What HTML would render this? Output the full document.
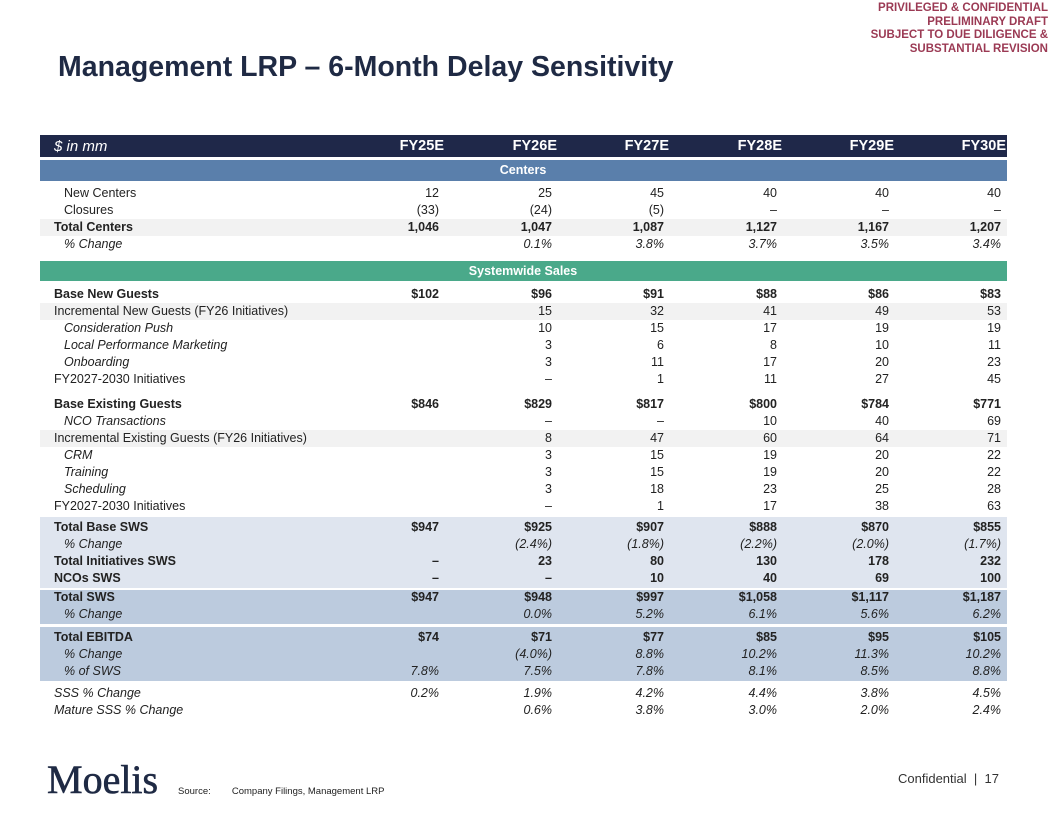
<!DOCTYPE html>
<html><head><meta charset="utf-8"><style>
body{margin:0;width:1056px;height:816px;background:#fff;position:relative;overflow:hidden;font-family:"Liberation Sans",Arial,sans-serif;color:#222}
.a{position:absolute}
.conf{right:8px;top:2px;text-align:right;color:#9b3a54;font-weight:bold;font-size:11.5px;line-height:13.5px}
.title{left:58px;top:51px;font-size:28.5px;font-weight:bold;color:#1f2a44}
.cell{position:absolute;font-size:12.5px;white-space:nowrap;line-height:17px}
.band{position:absolute;left:40px;width:967px}
</style></head><body>
<div class="a conf">PRIVILEGED &amp; CONFIDENTIAL<br>PRELIMINARY DRAFT<br>SUBJECT TO DUE DILIGENCE &amp;<br>SUBSTANTIAL REVISION</div>
<div class="a title">Management LRP – 6-Month Delay Sensitivity</div>
<div id="tbl"></div>
<div class="a" style="left:47px;top:756px;font-family:'Liberation Serif',serif;font-size:40px;color:#1f2a44;-webkit-text-stroke:0.6px #1f2a44">Moelis</div>
<div class="a" style="left:178px;top:786px;font-size:9.5px">Source:&nbsp;&nbsp;&nbsp;&nbsp;&nbsp;&nbsp;&nbsp;&nbsp;Company Filings, Management LRP</div>
<div class="a" style="left:898px;top:771px;font-size:13px;color:#333">Confidential &nbsp;|&nbsp; 17</div>
<script>
const years=["FY25E","FY26E","FY27E","FY28E","FY29E","FY30E"];
const colRight=[442,555,667,780,892,1004];
const rows=[
["New Centers",193,"ind",["12","25","45","40","40","40"],null],
["Closures",210,"ind",["(33)","(24)","(5)","–","–","–"],null],
["Total Centers",227,"bold",["1,046","1,047","1,087","1,127","1,167","1,207"],"#f2f2f2"],
["% Change",244,"itp",["","0.1%","3.8%","3.7%","3.5%","3.4%"],null],
["Base New Guests",294,"bold",["$102","$96","$91","$88","$86","$83"],null],
["Incremental New Guests (FY26 Initiatives)",311,"",["","15","32","41","49","53"],"#f2f2f2"],
["Consideration Push",328,"it",["","10","15","17","19","19"],null],
["Local Performance Marketing",345,"it",["","3","6","8","10","11"],null],
["Onboarding",362,"it",["","3","11","17","20","23"],null],
["FY2027-2030 Initiatives",379,"",["","–","1","11","27","45"],null],
["Base Existing Guests",404,"bold",["$846","$829","$817","$800","$784","$771"],null],
["NCO Transactions",421,"it",["","–","–","10","40","69"],null],
["Incremental Existing Guests (FY26 Initiatives)",438,"",["","8","47","60","64","71"],"#f2f2f2"],
["CRM",455,"it",["","3","15","19","20","22"],null],
["Training",472,"it",["","3","15","19","20","22"],null],
["Scheduling",489,"it",["","3","18","23","25","28"],null],
["FY2027-2030 Initiatives",506,"",["","–","1","17","38","63"],null],
["Total Base SWS",527,"bold",["$947","$925","$907","$888","$870","$855"],null],
["% Change",544,"itp",["","(2.4%)","(1.8%)","(2.2%)","(2.0%)","(1.7%)"],null],
["Total Initiatives SWS",561,"bold",["–","23","80","130","178","232"],null],
["NCOs SWS",578,"bold",["–","–","10","40","69","100"],null],
["Total SWS",597,"bold",["$947","$948","$997","$1,058","$1,117","$1,187"],null],
["% Change",614,"itp",["","0.0%","5.2%","6.1%","5.6%","6.2%"],null],
["Total EBITDA",637,"bold",["$74","$71","$77","$85","$95","$105"],null],
["% Change",654,"itp",["","(4.0%)","8.8%","10.2%","11.3%","10.2%"],null],
["% of SWS",671,"itp",["7.8%","7.5%","7.8%","8.1%","8.5%","8.8%"],null],
["SSS % Change",693,"itl",["0.2%","1.9%","4.2%","4.4%","3.8%","4.5%"],null],
["Mature SSS % Change",710,"itl",["","0.6%","3.8%","3.0%","2.0%","2.4%"],null]
];
const t=document.getElementById('tbl');
function band(top,h,bg,name){const d=document.createElement('div');d.className='band';d.style.top=top+'px';d.style.height=h+'px';d.style.background=bg;


t.appendChild(d);return d;}
function cell(txt,x,y,bold,ital,right,name,color){const d=document.createElement('div');d.className='cell';d.textContent=txt;
if(right){d.style.right=(1056-x)+'px';d.style.textAlign='right';}else d.style.left=x+'px';
d.style.top=(y-8.5)+'px';
if(bold)d.style.fontWeight='bold';
if(ital)d.style.fontStyle='italic';
if(color)d.style.color=color;


t.appendChild(d);return d;}
band(517,71,"#dfe5ef","base-sws-block");
band(590,34,"#bccbde","total-sws-block");
band(627,54,"#bccbde","ebitda-block");
rows.forEach(r=>{if(r[4])band(r[1]-8.5,17,r[4],"row-shade");});
band(135,22,"#1f2849","header-row");
band(160,21,"#5a7fab","centers-band");
band(261,20,"#4aa98a","systemwide-sales-band");
let x=cell("$ in mm",54,146,false,true,false,"unit-label","#fff");x.style.fontSize='15px';
years.forEach((y,i)=>{const e=cell(y,colRight[i]+2,146,true,false,true,"year-header","#fff");e.style.fontSize='14.5px';});
cell("Centers",523,170.5,true,false,false,"centers-title","#fff").style.transform='translateX(-50%)';
cell("Systemwide Sales",523,271,true,false,false,"sws-title","#fff").style.transform='translateX(-50%)';
rows.forEach(r=>{const st=r[2];const ind=(st==="ind"||st==="it"||st==="itp")?64:54;
const bold=st==="bold",labIt=st.startsWith("it"),valIt=(st==="itp"||st==="itl");
cell(r[0],ind,r[1],bold,labIt,false,"row-label");
r[3].forEach((v,i)=>{if(v)cell(v,colRight[i]-3,r[1],bold,valIt,true,"value-cell");});});
</script>
</body></html>
